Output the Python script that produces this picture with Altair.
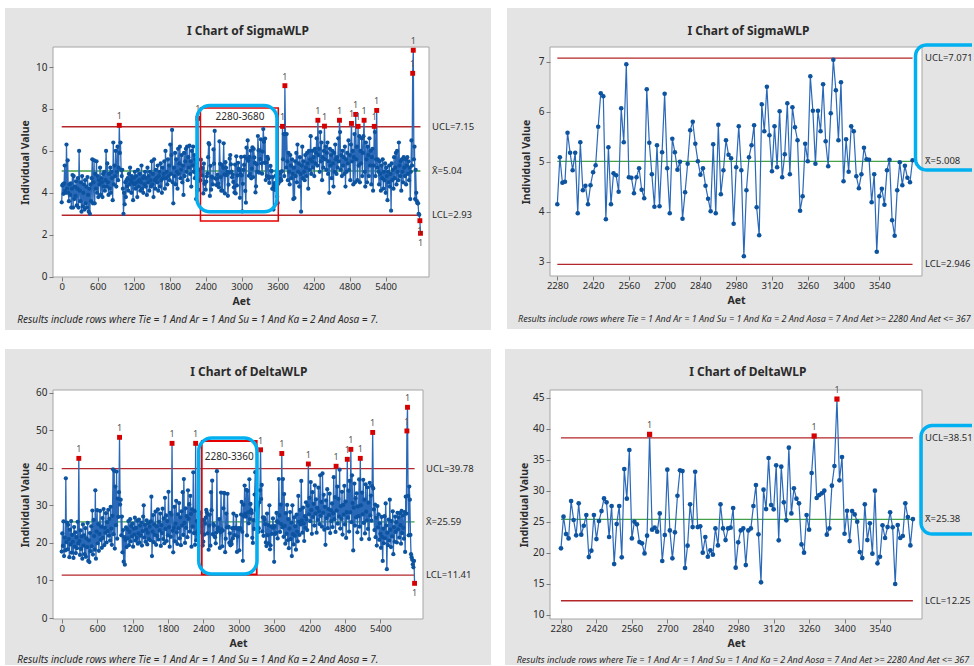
import math

import altair as alt
import pandas as pd

STEP = 10  # Aet spacing between consecutive observations

# ---------------- SigmaWLP ----------------
# Aet 0 .. 2270
sigma_head = [
    3.55, 4.35, 4.4, 3.95, 4.45, 5.3, 4.1, 4.0, 6.3, 4.2,
    5.55, 4.0, 3.6, 4.4, 3.9, 4.45, 3.3, 4.2, 4.85, 3.3,
    4.8, 3.7, 4.3, 3.85, 4.55, 3.4, 4.2, 4.7, 3.3, 6.0,
    4.1, 3.6, 4.5, 3.1, 4.8, 3.35, 4.0, 4.4, 3.2, 4.6,
    3.5, 4.3, 3.3, 4.75, 3.9, 3.1, 4.2, 3.0, 4.4, 3.6,
    4.7, 5.6, 3.5, 4.5, 5.55, 3.5, 4.9, 4.2, 5.5, 4.0,
    4.8, 3.8, 4.6, 4.4, 5.2, 3.9, 4.7, 4.5, 3.8, 4.9,
    4.3, 5.0, 4.1, 4.6, 6.0, 4.3, 5.4, 4.5, 3.9, 4.9,
    4.2, 5.2, 4.0, 5.0, 4.7, 3.65, 6.4, 4.4, 5.3, 4.8,
    6.0, 4.3, 5.0, 6.2, 4.6, 5.2, 7.22, 5.9, 6.4, 5.1,
    4.8, 5.1, 4.2, 3.0, 4.0, 3.45, 4.5, 3.8, 4.6, 4.3,
    4.7, 4.1, 4.9, 4.4, 5.2, 4.6, 4.0, 4.8, 4.5, 3.65,
    4.7, 4.4, 5.0, 4.2, 4.8, 4.5, 3.8, 5.1, 4.3, 4.6,
    4.9, 4.1, 4.5, 5.3, 4.2, 4.7, 4.0, 4.8, 4.4, 5.0,
    4.3, 4.7, 3.9, 5.2, 4.5, 4.8, 4.1, 5.0, 4.6, 4.3,
    5.5, 4.4, 4.9, 3.8, 5.6, 4.6, 4.2, 5.1, 4.7, 4.5,
    5.3, 4.1, 4.8, 5.0, 4.3, 5.4, 4.6, 4.0, 5.2, 4.7,
    4.9, 5.5, 4.2, 6.0, 4.7, 5.0, 4.4, 5.6, 4.8, 5.3,
    4.6, 6.3, 4.9, 5.8, 7.0, 4.5, 3.5, 5.2, 4.8, 5.9,
    4.4, 5.6, 5.0, 4.2, 6.1, 4.9, 5.4, 6.2, 4.7, 5.1,
    5.8, 4.5, 5.3, 3.9, 5.9, 4.8, 5.5, 6.1, 5.0, 6.2,
    4.6, 5.7, 5.2, 6.25, 4.9, 5.5, 4.3, 6.0, 5.3, 6.2,
    5.0, 5.8, 4.7, 5.6, 3.7, 5.4, 4.1, 7.55,
]
# Aet 2280 .. 3670
sigma_window = [
    4.15, 5.09, 4.58, 4.60, 5.58, 5.18, 4.83, 5.18, 3.97, 5.39,
    4.43, 4.52, 4.15, 4.53, 4.79, 4.93, 5.70, 6.37, 6.31, 3.85,
    5.29, 4.15, 4.77, 4.73, 4.40, 6.07, 5.39, 6.95, 4.69, 4.68,
    4.37, 4.69, 4.87, 4.44, 4.27, 6.45, 5.38, 4.75, 4.10, 5.33,
    4.11, 5.19, 6.36, 4.87, 3.97, 5.46, 5.19, 4.84, 5.00, 3.86,
    4.39, 4.96, 5.63, 5.80, 5.36, 5.01, 4.74, 4.87, 4.52, 4.26,
    4.01, 5.35, 3.97, 5.74, 4.35, 4.83, 5.43, 5.14, 5.07, 3.76,
    4.89, 5.71, 4.83, 3.11, 4.43, 5.09, 5.33, 5.73, 4.09, 3.53,
    6.15, 5.61, 6.50, 5.53, 4.81, 5.71, 4.89, 6.01, 4.69, 5.15,
    6.17, 4.75, 6.09, 5.69, 5.43, 4.02, 4.31, 5.36, 5.01, 6.71,
    6.02, 4.96, 6.02, 5.61, 6.55, 5.41, 4.91, 5.97, 7.04, 6.43,
    5.43, 6.59, 4.61, 5.45, 4.80, 5.71, 5.61, 4.71, 4.47, 4.75,
    5.28, 5.05, 5.04, 4.19, 4.75, 3.20, 4.31, 4.46, 4.14, 4.83,
    5.04, 3.83, 3.52, 4.43, 4.99, 4.53, 4.92, 4.68, 4.59, 5.03,
]
# Aet 3680 .. 5980
sigma_tail = [
    7.17, 5.6, 6.8, 4.8, 9.11, 6.8, 5.2, 6.8, 5.5, 4.6,
    5.9, 5.0, 4.4, 5.8, 5.3, 4.7, 5.6, 4.9, 3.7, 5.2,
    3.75, 5.5, 4.8, 5.9, 4.5, 6.3, 5.0, 5.4, 4.3, 5.7,
    4.9, 3.1, 5.3, 6.2, 4.7, 5.5, 5.0, 4.6, 5.8, 5.2,
    4.8, 5.9, 5.4, 4.2, 6.0, 5.1, 5.6, 6.7, 4.9, 5.5,
    6.0, 5.2, 5.7, 4.8, 6.1, 5.4, 5.9, 6.6, 5.3, 7.46,
    5.8, 6.1, 5.0, 6.9, 5.5, 6.4, 4.6, 5.7, 5.2, 6.0,
    7.18, 5.6, 6.2, 5.1, 5.9, 6.4, 4.9, 5.5, 4.0, 6.1,
    5.3, 5.8, 4.7, 6.0, 5.4, 4.3, 5.9, 5.0, 6.3, 5.6,
    4.9, 5.7, 5.2, 6.6, 5.5, 7.46, 6.9, 5.1, 5.8, 4.8,
    6.0, 5.3, 5.7, 4.9, 6.2, 4.3, 5.6, 5.0, 5.9, 5.4,
    6.5, 5.1, 5.8, 4.6, 6.3, 7.31, 5.5, 6.0, 4.4, 5.7,
    6.8, 4.5, 7.74, 5.6, 6.2, 4.6, 7.17, 5.3, 6.7, 4.5,
    6.0, 5.4, 6.6, 4.8, 5.9, 6.7, 7.46, 5.0, 4.3, 6.4,
    5.6, 4.5, 6.2, 5.8, 4.8, 6.6, 5.3, 6.0, 4.4, 5.7,
    6.1, 4.1, 5.3, 7.17, 6.9, 4.8, 5.6, 7.93, 5.2, 5.6,
    5.0, 4.4, 5.5, 4.9, 4.1, 5.3, 4.7, 5.6, 4.2, 5.0,
    4.6, 5.4, 4.0, 5.2, 4.8, 3.65, 5.0, 4.5, 5.3, 4.3,
    4.9, 3.15, 5.4, 4.6, 5.1, 4.2, 5.7, 4.7, 5.2, 5.9,
    4.4, 6.0, 5.0, 4.6, 6.4, 5.3, 4.8, 5.5, 4.1, 5.6,
    5.0, 4.5, 5.7, 5.2, 4.8, 5.6, 4.4, 5.3, 5.7, 4.9,
    5.5, 4.6, 5.2, 3.7, 5.0, 6.5, 5.3, 9.7, 10.8, 5.6,
    6.2, 3.7, 5.1, 4.0, 3.6, 3.5, 3.5, 3.0, 2.95, 2.67,
    2.07,
]

# ---------------- DeltaWLP ----------------
# Aet 0 .. 2270
delta_head = [
    17.7, 22.5, 19.2, 25.7, 16.5, 21.4, 18.0, 37.2, 20.2, 25.4,
    18.3, 24.8, 21.0, 16.2, 23.5, 19.6, 25.8, 17.4, 22.1, 20.3,
    16.0, 24.2, 19.0, 22.8, 17.3, 21.5, 18.6, 25.6, 19.8, 42.5,
    20.5, 16.8, 23.3, 18.4, 21.7, 15.8, 24.9, 19.3, 22.0, 17.0,
    23.9, 16.3, 21.2, 18.9, 25.3, 15.2, 20.7, 14.9, 22.6, 17.8,
    24.4, 19.1, 28.6, 16.9, 26.1, 21.8, 18.2, 34.0, 15.8, 23.0,
    28.7, 19.9, 25.0, 17.9, 22.4, 28.5, 20.8, 24.3, 18.7, 26.6,
    21.3, 29.0, 19.4, 24.0, 22.7, 27.9, 20.1, 25.5, 23.1, 28.8,
    21.9, 26.4, 20.6, 29.6, 23.8, 19.5, 27.2, 39.6, 22.3, 39.2,
    18.5, 35.0, 24.7, 39.0, 21.1, 31.8, 26.9, 33.5, 48.1, 30.2,
    31.5, 22.0, 27.0, 17.5, 23.4, 15.0, 21.5, 14.2, 20.8, 24.1,
    18.9, 23.6, 21.2, 25.8, 19.4, 22.9, 26.3, 20.4, 24.5, 21.7,
    25.1, 19.0, 23.8, 22.2, 26.7, 20.6, 24.0, 21.3, 25.9, 19.8,
    22.5, 26.2, 20.1, 24.6, 21.9, 25.4, 19.3, 23.1, 27.0, 30.0,
    21.4, 24.8, 20.3, 23.5, 26.0, 19.6, 22.7, 25.2, 21.0, 24.3,
    20.7, 25.7, 32.3, 16.5, 23.0, 27.4, 20.2, 24.9, 22.1, 28.3,
    19.5, 24.4, 21.8, 28.9, 20.9, 25.6, 23.3, 27.8, 19.2, 24.7,
    22.6, 29.1, 21.0, 26.5, 19.9, 32.0, 23.7, 27.3, 20.5, 25.8,
    22.0, 33.6, 24.2, 19.0, 28.0, 21.6, 27.5, 46.5, 23.2, 17.5,
    24.0, 29.6, 20.4, 25.1, 31.2, 22.8, 19.7, 27.6, 23.9, 30.6,
    21.2, 26.8, 19.4, 28.4, 24.6, 33.5, 22.1, 37.0, 25.3, 20.0,
    29.2, 24.0, 27.1, 21.5, 34.0, 26.4, 30.3, 23.0, 32.5, 27.7,
    19.0, 28.9, 24.3, 38.8, 22.6, 28.5, 19.5, 46.5,
]
# Aet 2280 .. 3670
delta_window = [
    20.70, 25.81, 23.01, 22.31, 28.33, 25.27, 22.80, 27.96, 22.90, 24.35,
    26.08, 19.30, 20.32, 26.08, 22.20, 25.11, 26.72, 28.76, 28.12, 22.53,
    27.53, 18.17, 24.62, 27.53, 19.25, 33.49, 28.71, 36.56, 22.31, 25.00,
    24.57, 21.72, 21.51, 19.89, 22.74, 39.09, 23.71, 24.03, 23.39, 26.34,
    18.66, 22.85, 33.39, 23.60, 19.09, 23.28, 29.19, 33.28, 33.17, 17.53,
    21.13, 27.80, 24.14, 33.06, 24.14, 24.25, 20.00, 22.53, 19.35, 20.38,
    19.68, 23.92, 21.18, 27.80, 23.92, 22.04, 23.92, 24.03, 27.20, 17.58,
    21.67, 23.60, 23.92, 18.01, 23.60, 23.92, 27.53, 30.91, 22.96, 15.22,
    30.16, 27.04, 35.27, 27.69, 26.99, 34.09, 21.99, 33.87, 28.12, 25.22,
    36.94, 26.34, 30.38, 28.71, 27.96, 21.34, 20.00, 26.08, 23.71, 32.85,
    38.82, 28.82, 29.30, 29.57, 30.00, 22.90, 23.92, 30.81, 33.98, 44.78,
    31.67, 35.43, 23.06, 26.77, 21.88, 26.72, 26.18, 25.00, 20.11, 19.14,
    27.80, 22.04, 24.73, 19.84, 30.00, 18.28, 19.35, 24.41, 22.37, 24.14,
    26.51, 24.09, 14.95, 24.46, 22.37, 22.69, 27.96, 25.75, 21.18, 25.43,
]
# Aet 3680 .. 5980
delta_tail = [
    37.0, 27.3, 22.9, 30.2, 25.0, 43.8, 24.1, 37.0, 21.6, 33.0,
    24.5, 19.8, 27.9, 22.4, 30.1, 20.7, 26.3, 18.6, 23.8, 28.2,
    21.0, 25.4, 16.5, 30.0, 22.3, 19.6, 26.8, 21.9, 24.4, 18.2,
    27.5, 23.0, 20.4, 32.5, 25.6, 22.1, 28.8, 24.9, 36.5, 26.0,
    22.7, 29.4, 25.2, 20.5, 27.1, 24.0, 30.8, 26.3, 23.4, 29.9,
    41.0, 27.6, 32.0, 25.8, 36.2, 28.7, 22.4, 33.5, 26.9, 30.4,
    24.6, 35.3, 27.8, 31.6, 22.7, 29.3, 26.1, 34.7, 28.4, 25.0,
    38.0, 27.2, 30.9, 24.3, 38.5, 28.0, 32.8, 23.5, 29.6, 19.5,
    31.3, 26.6, 34.3, 23.9, 29.0, 27.4, 33.1, 22.6, 28.7, 25.8,
    30.5, 24.2, 27.9, 37.5, 26.3, 32.2, 22.9, 40.4, 28.6, 35.0,
    25.1, 31.7, 27.0, 39.5, 23.8, 29.8, 26.4, 33.6, 22.2, 30.1,
    27.5, 35.2, 24.9, 31.0, 21.3, 28.2, 42.25, 26.7, 33.9, 23.0,
    36.5, 28.1, 44.9, 25.5, 38.0, 30.6, 18.0, 29.4, 35.8, 24.6,
    31.9, 26.8, 33.2, 22.8, 29.7, 27.1, 36.9, 24.3, 42.5, 30.0,
    21.0, 33.4, 27.6, 36.8, 25.3, 31.5, 22.5, 35.6, 28.3, 26.0,
    34.8, 23.7, 30.7, 21.0, 36.0, 27.3, 32.6, 25.9, 35.1, 49.4,
    34.5, 28.9, 23.4, 30.2, 21.5, 26.7, 19.3, 29.8, 24.1, 27.6,
    20.8, 25.2, 22.4, 18.7, 26.9, 21.6, 15.2, 23.8, 19.9, 27.1,
    21.2, 30.5, 24.6, 13.0, 22.7, 19.4, 26.2, 20.6, 31.5, 23.5,
    18.9, 25.8, 21.7, 28.4, 17.0, 24.2, 20.3, 27.0, 22.9, 25.5,
    20.1, 28.0, 23.6, 26.8, 21.4, 27.9, 24.7, 19.8, 28.5, 22.6,
    27.3, 24.0, 21.1, 28.2, 17.6, 32.3, 27.8, 49.8, 56.1, 32.5,
    22.0, 35.0, 31.5, 22.1, 17.0, 16.2, 15.5, 14.3, 13.5, 15.2,
    9.23,
]

# control limits as reported: UCL, centre line, LCL
limit_names = ["UCL", "X\u0304", "LCL"]
sigma_all_limits = [7.15, 5.04, 2.93]
sigma_win_limits = [7.071, 5.008, 2.946]
delta_all_limits = [39.78, 25.59, 11.41]
delta_win_limits = [38.51, 25.38, 12.25]

full_x_ticks = [0, 600, 1200, 1800, 2400, 3000, 3600, 4200, 4800, 5400]
window_x_ticks = [2280, 2420, 2560, 2700, 2840, 2980, 3120, 3260, 3400, 3540]
sigma_all_y_ticks = [0, 2, 4, 6, 8, 10]
sigma_win_y_ticks = [3, 4, 5, 6, 7]
delta_all_y_ticks = [0, 10, 20, 30, 40, 50, 60]
delta_win_y_ticks = [10, 15, 20, 25, 30, 35, 40, 45]

note_all = "Results include rows where Tie = 1 And Ar = 1 And Su = 1 And Ka = 2 And Aosa = 7."
note_win = ("Results include rows where Tie = 1 And Ar = 1 And Su = 1 And Ka = 2 "
            "And Aosa = 7 And Aet >= 2280 And Aet <= 3670")

FONT = "Noto Sans"
GRAY = "#e4e4e4"
FRAME = "#a6a6a6"
TEXT = "#2b2b2b"
BLUE_LINE = "#2a68b8"
BLUE_DOT = "#0c53a0"
OUT_RED = "#d60000"
LIMIT_RED = "#b3262a"
CENTER_GREEN = "#43a047"
CALLOUT_BLUE = "#00b0f0"
BOX_RED = "#e60000"
CANVAS_W = 974  # the page is this wide; nothing may spill past it


def callout_path(left, top, bottom, right, radius, steps=6):
    """Open rounded bracket (top edge, left side, bottom edge) in plot pixels."""
    pts = [(right, top), (left + radius, top)]
    for k in range(1, steps):
        a = math.pi / 2 * k / steps
        pts.append((left + radius - radius * math.sin(a), top + radius - radius * math.cos(a)))
    pts += [(left, top + radius), (left, bottom - radius)]
    for k in range(1, steps):
        a = math.pi / 2 * k / steps
        pts.append((left + radius - radius * math.cos(a), bottom - radius + radius * math.sin(a)))
    pts += [(left + radius, bottom), (right, bottom)]
    return pts


def i_chart(values, first_aet, limits, *, x_dom, y_dom, x_ticks, y_ticks, w, h,
            heading, note, note_size, panel, heading_pos, y_title_x, note_pos,
            dot, sq, line_w, origin_x, boxes=(), labels=(), side_box=None):
    ucl, cl, lcl = limits
    aet = [first_aet + STEP * i for i in range(len(values))]
    obs = pd.DataFrame({"aet": aet, "value": values})
    obs["side"] = ["high" if v > ucl else "low" if v < lcl else "in" for v in values]

    xs = alt.Scale(domain=x_dom, nice=False, zero=False)
    ys = alt.Scale(domain=y_dom, nice=False, zero=False)
    x_axis = alt.Axis(values=x_ticks, format="d", grid=False, domain=False, tickSize=4,
                      tickColor="#7a7a7a", labelFontSize=9.5, labelColor=TEXT, labelPadding=0,
                      labelFlush=False, labelOverlap=False, titleFontSize=10.5,
                      titleFontWeight="bold", titleColor=TEXT, titleX=w / 2, titleY=24.5,
                      titleBaseline="middle", zindex=1)
    y_axis = alt.Axis(values=y_ticks, format="d", grid=False, domain=False, tickSize=4,
                      tickColor="#7a7a7a", labelFontSize=10, labelColor=TEXT, labelPadding=2,
                      labelFlush=False, labelOverlap=False, titleFontSize=10.5,
                      titleFontWeight="bold", titleColor=TEXT, titleX=y_title_x, titleY=h / 2,
                      titleBaseline="middle", zindex=1)

    def X(field="aet"):
        return alt.X(f"{field}:Q", scale=xs, axis=x_axis, title="Aet")

    def Y(field="value"):
        return alt.Y(f"{field}:Q", scale=ys, axis=y_axis, title="Individual Value")

    right_room = CANVAS_W - origin_x  # pixels from the plot's left edge to the page edge
    one = pd.DataFrame({"heading": [heading], "note": [note]})
    backdrop = alt.Chart(one).mark_rect(fill=GRAY).encode(
        x=alt.value(panel[0]), x2=alt.value(min(w + panel[1], right_room)),
        y=alt.value(panel[2]), y2=alt.value(h + panel[3]))
    plot_area = alt.Chart(one).mark_rect(fill="white", stroke=FRAME, strokeWidth=1).encode(
        x=alt.value(0), x2=alt.value(w), y=alt.value(0), y2=alt.value(h))
    head = alt.Chart(one).mark_text(fontSize=12, fontWeight="bold", color=TEXT,
                                    baseline="middle").encode(
        x=alt.value(heading_pos[0]), y=alt.value(heading_pos[1]), text="heading:N")
    foot = alt.Chart(one).mark_text(
        fontSize=note_size, fontStyle="italic", color=TEXT, align="left", baseline="middle",
        limit=right_room - note_pos[0] - 1, ellipsis="\u200b").encode(
        x=alt.value(note_pos[0]), y=alt.value(note_pos[1]), text="note:N")

    lim = pd.DataFrame({
        "aet": [aet[0]] * 3, "aet_end": [aet[-1]] * 3, "value": limits,
        "label": [f"{n}={v}" for n, v in zip(limit_names, limits)],
        "tone": [LIMIT_RED, CENTER_GREEN, LIMIT_RED],
    })
    rules = alt.Chart(lim).mark_rule(strokeWidth=1.3).encode(
        x=X(), x2=alt.X2("aet_end:Q", title="Aet"), y=Y(),
        color=alt.Color("tone:N", scale=None))
    lim_text = alt.Chart(lim).mark_text(align="left", baseline="middle", fontSize=9.5,
                                        color=TEXT).encode(
        x=alt.value(w + 3), y=Y(), text="label:N")

    trace = alt.Chart(obs).mark_line(color=BLUE_LINE, strokeWidth=line_w).encode(x=X(), y=Y())
    dots = alt.Chart(obs).transform_filter(alt.datum.side == "in").mark_circle(
        color=BLUE_DOT, size=dot, opacity=1).encode(x=X(), y=Y())
    flagged = alt.Chart(obs).transform_filter(alt.datum.side != "in").mark_square(
        color=OUT_RED, size=sq, opacity=1).encode(x=X(), y=Y())
    tag_hi = alt.Chart(obs).transform_filter(alt.datum.side == "high").mark_text(
        dy=-9, fontSize=9, color="#555555").encode(x=X(), y=Y(), text=alt.value("1"))
    tag_lo = alt.Chart(obs).transform_filter(alt.datum.side == "low").mark_text(
        dy=10, fontSize=9, color="#555555").encode(x=X(), y=Y(), text=alt.value("1"))

    layers = [backdrop, plot_area, rules, trace, dots, flagged, tag_hi, tag_lo,
              lim_text, head, foot]

    # highlighted Aet range drawn over the full-run charts
    for x0, x1, y0, y1, col, sw, rad in boxes:
        bdf = pd.DataFrame({"aet": [x0], "aet_end": [x1], "value": [y0], "value_end": [y1]})
        layers.append(alt.Chart(bdf).mark_rect(
            fill="transparent", stroke=col, strokeWidth=sw, cornerRadius=rad).encode(
            x=X(), x2=alt.X2("aet_end:Q", title="Aet"), y=Y(),
            y2=alt.Y2("value_end:Q", title="Individual Value")))
    for x0, y0, txt in labels:
        tdf = pd.DataFrame({"aet": [x0], "value": [y0], "txt": [txt]})
        layers.append(alt.Chart(tdf).mark_text(fontSize=10, color=TEXT).encode(
            x=X(), y=Y(), text="txt:N"))

    # callout around the limit labels; it runs off the right edge of the page
    if side_box is not None:
        left, top, bottom = side_box
        pts = callout_path(w + left, top, bottom, right_room - 2, 11)
        sx = (x_dom[1] - x_dom[0]) / w
        sy = (y_dom[1] - y_dom[0]) / h
        cdf = pd.DataFrame({
            "k": list(range(len(pts))),
            "aet": [x_dom[0] + px * sx for px, _ in pts],
            "value": [y_dom[1] - py * sy for _, py in pts],
        })
        layers.append(alt.Chart(cdf).mark_line(
            color=CALLOUT_BLUE, strokeWidth=3.5, strokeJoin="round", strokeCap="butt").encode(
            x=X(), y=Y(), order="k:Q"))

    return alt.layer(*layers).properties(width=w, height=h)


sigma_full = sigma_head + sigma_window + sigma_tail
delta_full = delta_head + delta_window + delta_tail

top_left = i_chart(
    sigma_full, 0, sigma_all_limits,
    x_dom=[-145, 6122], y_dom=[-0.014, 10.954], x_ticks=full_x_ticks,
    y_ticks=sigma_all_y_ticks, w=376, h=230, heading="I Chart of SigmaWLP",
    note=note_all, note_size=10, panel=(-48, 62, -39, 53), heading_pos=(195, -16.3),
    y_title_x=-28, note_pos=(-35.7, 273), dot=18, sq=24, line_w=1.3, origin_x=53,
    boxes=[(2313, 3610, 8.04, 2.66, BOX_RED, 1.5, 0),
           (2255, 3588, 8.17, 3.10, CALLOUT_BLUE, 3.5, 13)],
    labels=[(2972, 7.63, "2280-3680")])

top_right = i_chart(
    sigma_window, 2280, sigma_win_limits,
    x_dom=[2251.4, 3707], y_dom=[2.714, 7.294], x_ticks=window_x_ticks,
    y_ticks=sigma_win_y_ticks, w=372, h=229, heading="I Chart of SigmaWLP",
    note=note_win, note_size=9, panel=(-43, 60, -39, 53), heading_pos=(198.5, -16.3),
    y_title_x=-23.3, note_pos=(-32, 272), dot=21, sq=26, line_w=1.2, origin_x=550,
    side_box=(-6.5, -2, 123))

bottom_left = i_chart(
    delta_full, 0, delta_all_limits,
    x_dom=[-147.4, 6122.7], y_dom=[-0.266, 60.70], x_ticks=full_x_ticks,
    y_ticks=delta_all_y_ticks, w=370, h=229, heading="I Chart of DeltaWLP",
    note=note_all, note_size=10, panel=(-48, 68, -41, 46), heading_pos=(195.8, -18.3),
    y_title_x=-28, note_pos=(-35.7, 270), dot=18, sq=24, line_w=1.3, origin_x=53,
    boxes=[(2374, 3305, 47.12, 11.63, BOX_RED, 1.8, 0),
           (2322, 3310, 47.92, 11.71, CALLOUT_BLUE, 3.5, 13)],
    labels=[(2840, 42.94, "2280-3360")])

bottom_right = i_chart(
    delta_window, 2280, delta_win_limits,
    x_dom=[2236.6, 3705.9], y_dom=[9.306, 46.242], x_ticks=window_x_ticks,
    y_ticks=delta_win_y_ticks, w=372, h=229, heading="I Chart of DeltaWLP",
    note=note_win, note_size=9, panel=(-45, 60, -41, 46), heading_pos=(197.8, -18.3),
    y_title_x=-26, note_pos=(-33.3, 270), dot=22, sq=27, line_w=1.2, origin_x=550,
    side_box=(-1, 35.6, 144))

chart = alt.concat(
    top_left, top_right, bottom_left, bottom_right,
    columns=2, spacing={"row": 113, "column": 121}, bounds="flush",
).properties(
    padding={"left": 5, "top": 8, "right": 0, "bottom": 0},
    background="white",
).configure(font=FONT).configure_view(strokeWidth=0)

chart.save("out.html", embed_options={"renderer": "svg", "actions": False})
